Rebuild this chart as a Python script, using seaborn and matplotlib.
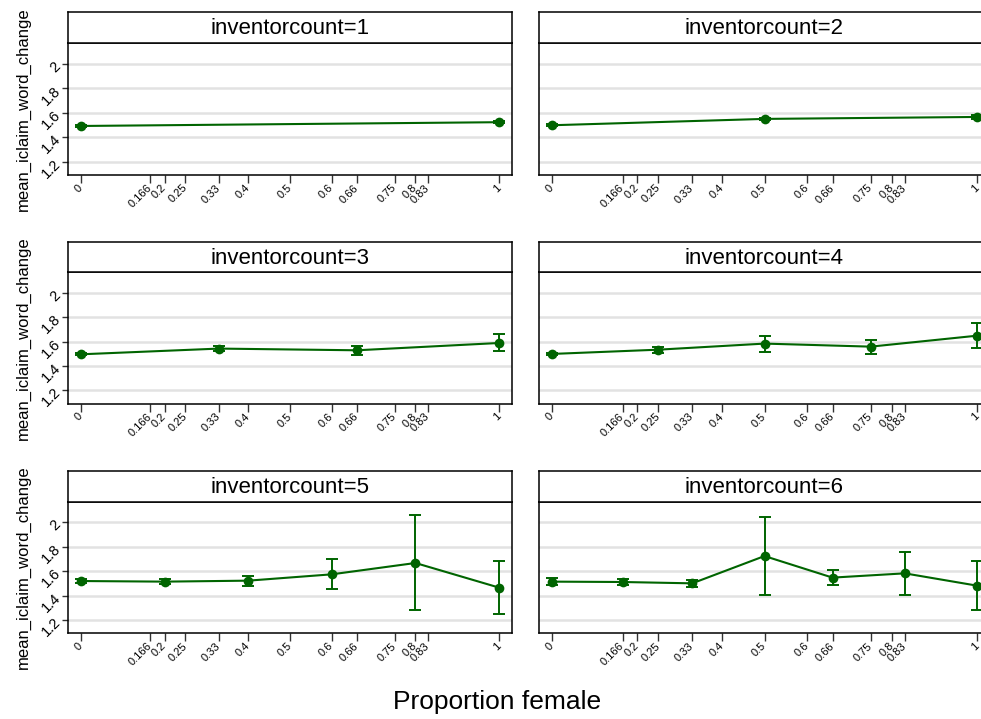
import numpy as np
import pandas as pd
import matplotlib
matplotlib.use("Agg")
import matplotlib.pyplot as plt
import seaborn as sns

# ---------------- data ----------------
panels = [1, 2, 3, 4, 5, 6]
x1 = [0, 1]
m1 = [1.492, 1.523]
lo1 = [1.484, 1.513]
hi1 = [1.500, 1.533]

x2 = [0, 0.5, 1]
m2 = [1.498, 1.550, 1.566]
lo2 = [1.490, 1.540, 1.551]
hi2 = [1.506, 1.560, 1.581]

x3 = [0, 0.33, 0.66, 1]
m3 = [1.496, 1.543, 1.529, 1.589]
lo3 = [1.488, 1.520, 1.491, 1.521]
hi3 = [1.504, 1.566, 1.567, 1.660]

x4 = [0, 0.25, 0.5, 0.75, 1]
m4 = [1.499, 1.534, 1.584, 1.559, 1.649]
lo4 = [1.491, 1.509, 1.518, 1.501, 1.545]
hi4 = [1.507, 1.559, 1.650, 1.617, 1.753]

x5 = [0, 0.2, 0.4, 0.6, 0.8, 1]
m5 = [1.519, 1.514, 1.522, 1.574, 1.667, 1.465]
lo5 = [1.500, 1.495, 1.480, 1.454, 1.279, 1.249]
hi5 = [1.538, 1.533, 1.564, 1.697, 2.060, 1.686]

x6 = [0, 0.166, 0.33, 0.5, 0.66, 0.83, 1]
m6 = [1.514, 1.511, 1.500, 1.724, 1.547, 1.582, 1.481]
lo6 = [1.488, 1.485, 1.469, 1.408, 1.484, 1.408, 1.279]
hi6 = [1.540, 1.537, 1.531, 2.041, 1.610, 1.757, 1.683]

xticks = [0, 0.166, 0.2, 0.25, 0.33, 0.4, 0.5, 0.6, 0.66, 0.75, 0.8, 0.83, 1]
xticklabels = ["0", "0.166", "0.2", "0.25", "0.33", "0.4", "0.5", "0.6",
               "0.66", "0.75", "0.8", "0.83", "1"]
yticks = [1.2, 1.4, 1.6, 1.8, 2.0]
yticklabels = ["1.2", "1.4", "1.6", "1.8", "2"]

xs = [x1, x2, x3, x4, x5, x6]
ms = [m1, m2, m3, m4, m5, m6]
los = [lo1, lo2, lo3, lo4, lo5, lo6]
his = [hi1, hi2, hi3, hi4, hi5, hi6]

rows = []
for p, xx, mm, ll, hh in zip(panels, xs, ms, los, his):
    for a, b, c, d in zip(xx, mm, ll, hh):
        rows.append({"inventorcount": p, "prop": a, "mean": b, "lo": c, "hi": d})
df = pd.DataFrame(rows)

# ---------------- style ----------------
sns.set_style("white")
plt.rcParams['font.family'] = ['Liberation Sans', 'DejaVu Sans']
plt.rcParams['text.color'] = 'black'
plt.rcParams['axes.labelcolor'] = 'black'
plt.rcParams['xtick.color'] = 'black'
plt.rcParams['ytick.color'] = 'black'
GREEN = "#006400"

W, H = 981, 719
g = sns.FacetGrid(df, col="inventorcount", col_wrap=2, sharex=False, sharey=False,
                  height=2.3, aspect=1.9)
fig = g.figure
fig.set_size_inches(W / 100, H / 100)
fig.set_dpi(100)


def draw(data, **kw):
    ax = plt.gca()
    ax.errorbar(data["prop"], data["mean"],
                yerr=[data["mean"] - data["lo"], data["hi"] - data["mean"]],
                fmt="none", ecolor=GREEN, elinewidth=1.4, capsize=4.5, capthick=1.4,
                zorder=3)
    sns.lineplot(data=data, x="prop", y="mean", color=GREEN, linewidth=1.5,
                 marker="o", markersize=7, markeredgecolor=GREEN,
                 markeredgewidth=0, ax=ax, zorder=4, errorbar=None)


g.map_dataframe(draw)

# pixel layout
col_x = [(68, 512), (538.8, 990.2)]
row_y = [(12, 43.3, 175), (241.7, 272.3, 403.7), (470.7, 501.7, 633.3)]


def fx(px):
    return px / W


def fy(py):
    return 1 - py / H


for i, ax in enumerate(g.axes.flat):
    r, c = divmod(i, 2)
    x0, x1p = col_x[c]
    st, sb, ab = row_y[r]
    ax.set_position([fx(x0), fy(ab), fx(x1p) - fx(x0), fy(sb) - fy(ab)])
    ax.set_title("")
    ax.set_xlim(-0.031, 1.031)
    ax.set_ylim(1.09, 2.17)
    ax.set_xticks(xticks)
    ax.set_xticklabels(xticklabels)
    ax.set_yticks(yticks)
    ax.set_axisbelow(True)
    ax.yaxis.grid(True, color="#e2e2e2", linewidth=1.8)
    ax.xaxis.grid(False)
    for s in ax.spines.values():
        s.set_visible(True)
        s.set_color("black")
        s.set_linewidth(1.1)
    ax.tick_params(axis="x", direction="out", length=6, width=1, color="#333333",
                   labelsize=8, pad=2, bottom=True, labelcolor="black")
    for lab in ax.get_xticklabels():
        lab.set_rotation(45)
        lab.set_ha("right")
        lab.set_va("center")
        lab.set_rotation_mode("anchor")
    ax.set_xlabel("")
    if c == 0:
        ax.set_yticklabels(yticklabels)
        ax.tick_params(axis="y", direction="out", length=4, width=1,
                       color="#333333", labelsize=10.5, pad=3, left=True,
                       labelcolor="black")
        for lab in ax.get_yticklabels():
            lab.set_rotation(45)
            lab.set_ha("right")
            lab.set_va("center")
            lab.set_rotation_mode("anchor")
        ax.set_ylabel("mean_iclaim_word_change", fontsize=12, labelpad=6,
                      color="black")
    else:
        ax.set_yticklabels([])
        ax.tick_params(axis="y", length=0, left=False)
        ax.set_ylabel("")

    # strip box
    sax = fig.add_axes([fx(x0), fy(sb), fx(x1p) - fx(x0), fy(st) - fy(sb)])
    sax.set_xticks([])
    sax.set_yticks([])
    sax.set_facecolor("white")
    for s in sax.spines.values():
        s.set_visible(True)
        s.set_color("black")
        s.set_linewidth(1.1)
    sax.text(0.5, 0.46, f"inventorcount={panels[i]}", fontsize=16,
             ha="center", va="center", transform=sax.transAxes, color="black")

fig.text(fx(497), fy(702), "Proportion female", fontsize=19, ha="center",
         va="center", color="black")

fig.savefig("out.png", dpi=100, facecolor="white")
